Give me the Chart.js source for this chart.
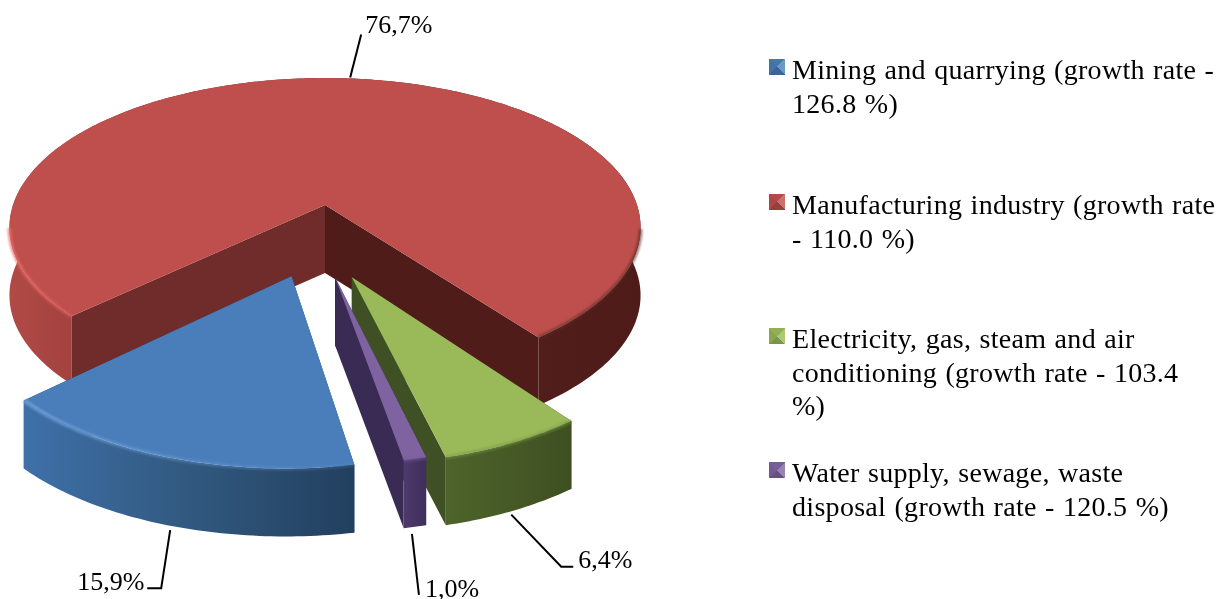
<!DOCTYPE html>
<html>
<head>
<meta charset="utf-8">
<title>Growth by industry</title>
<script src="https://cdn.jsdelivr.net/npm/chart.js@4"></script>
<style>
    html, body { margin: 0; padding: 0; background: #fff; }
    #wrap { position: relative; width: 1225px; height: 599px; overflow: hidden; }
    #legend { position: absolute; left: 0; top: 0; font-family: "Liberation Serif", serif; font-size: 28px; letter-spacing: .3px; word-spacing: 1px; color: #000; }
    .item { position: absolute; left: 769px; white-space: pre; line-height: 33.5px; padding-left: 23px; }
    .item:nth-child(1) { top: 53px; }
    .item:nth-child(2) { top: 188px; }
    .item:nth-child(3) { top: 322px; }
    .item:nth-child(4) { top: 456px; }
    .box { position: absolute; left: 0; top: 6px; width: 16px; height: 16px; }
</style>
</head>
<body>
<div id="wrap">
    <canvas id="pieChart" width="1225" height="599"></canvas>
    <div id="legend"></div>
</div>
<script>
const categories = [
    'Mining and quarrying (growth rate -\n126.8 %)',
    'Manufacturing industry (growth rate\n- 110.0 %)',
    'Electricity, gas, steam and air\nconditioning (growth rate - 103.4\n%)',
    'Water supply, sewage, waste\ndisposal (growth rate - 120.5 %)'
];
const shares = [15.9, 76.7, 6.4, 1.0];
const colors = ['#4a7ebb', '#be4f4c', '#9aba59', '#7f63a1'];

// legend is plain html so the line breaks stay where they are in the picture
document.getElementById('legend').innerHTML = categories.map((c, i) =>
    `<div class="item"><div class="box" style="background:conic-gradient(from -45deg, rgba(0,0,0,.06) 0 25%, rgba(255,255,255,.2) 0 50%, rgba(0,0,0,.2) 0 75%, rgba(0,0,0,.1) 0), ${colors[i]}"></div>${c}</div>`
).join('');

// fake 3d look: the library lays out the arcs, this plugin projects them with a bit of perspective
const pie3d = {
    id: 'pie3d',
    beforeDatasetDraw(chart, args, opts) {
        const ctx = chart.ctx;
        const arcs = chart.getDatasetMeta(0).data;

        const project = (el, i, t, extra = 1) => {
            const [ex, ey, s] = opts.explode[i];
            const u = extra * s * Math.cos(t) + ex;
            const v = extra * s * Math.sin(t) + ey;
            const p = 1 / (1 - opts.perspective * v);
            return [el.x + opts.radiusX * u * p, el.y + opts.radiusY * v * p];
        };
        const sample = (el, i) => {
            const pts = [];
            const n = Math.max(4, Math.ceil((el.endAngle - el.startAngle) * 60));
            for (let k = 0; k <= n; k++) {
                const t = el.startAngle + (el.endAngle - el.startAngle) * k / n;
                pts.push({ t, p: project(el, i, t) });
            }
            return pts;
        };
        const poly = (pts) => {
            ctx.beginPath();
            pts.forEach((p, k) => k ? ctx.lineTo(p[0], p[1]) : ctx.moveTo(p[0], p[1]));
            ctx.closePath();
        };
        const down = (p) => [p[0], p[1] + opts.depth];

        ctx.save();
        opts.order.forEach(i => {
            const el = arcs[i];
            const pts = sample(el, i);
            const rim = pts.map(a => a.p);
            const apex = project(el, i, 0, 0);
            const xs = rim.map(p => p[0]);
            const x0 = Math.min(...xs), x1 = Math.max(...xs);
            const grad = (stops) => {
                const g = ctx.createLinearGradient(x0, 0, x1, 0);
                stops.forEach(s => g.addColorStop(s[0], s[1]));
                return g;
            };

            // cut faces
            const first = rim[0], last = rim[rim.length - 1];
            ctx.fillStyle = opts.startWall[i];
            poly([apex, first, down(first), down(apex)]);
            ctx.fill();
            ctx.fillStyle = opts.endWall[i];
            poly([apex, last, down(last), down(apex)]);
            ctx.fill();

            // outer rim
            ctx.fillStyle = grad(opts.rimStops[i]);
            poly(rim.concat(rim.map(down).reverse()));
            ctx.fill();

            // top face
            ctx.fillStyle = el.options.backgroundColor;
            poly([apex].concat(rim));
            ctx.fill();

            // soft edge between top and rim, only on the part facing us
            ctx.save();
            ctx.filter = 'blur(1.2px)';
            ctx.strokeStyle = grad(opts.edgeStops[i]);
            ctx.lineWidth = 4;
            ctx.beginPath();
            let pen = false;
            pts.forEach(a => {
                if (Math.sin(a.t) < 0.15) { pen = false; return; }
                pen ? ctx.lineTo(a.p[0], a.p[1]) : ctx.moveTo(a.p[0], a.p[1]);
                pen = true;
            });
            ctx.stroke();
            ctx.restore();
        });

        // value labels with leader lines
        ctx.strokeStyle = '#000';
        ctx.fillStyle = '#000';
        ctx.lineWidth = 2;
        ctx.font = '26px "Liberation Serif", serif';
        ctx.textBaseline = 'alphabetic';
        arcs.forEach((el, i) => {
            const mid = (el.startAngle + el.endAngle) / 2;
            let a = project(el, i, mid);
            if (Math.sin(mid) > 0) a = down(a);
            const lead = opts.leaders[i];
            ctx.beginPath();
            ctx.moveTo(a[0] + lead[0][0], a[1] + lead[0][1]);
            lead.slice(1).forEach(d => ctx.lineTo(a[0] + d[0], a[1] + d[1]));
            ctx.stroke();
            const txt = shares[i].toFixed(1).replace('.', ',') + '%';
            ctx.fillText(txt, a[0] + opts.labelAt[i][0], a[1] + opts.labelAt[i][1]);
        });
        ctx.restore();
        return false;
    }
};

new Chart(document.getElementById('pieChart'), {
    type: 'pie',
    data: {
        labels: categories,
        datasets: [{ data: shares, backgroundColor: colors, borderWidth: 0 }]
    },
    options: {
        responsive: false,
        animation: false,
        rotation: 169.6,
        layout: { padding: { right: 575, bottom: 189 } },
        plugins: {
            legend: { display: false },
            tooltip: { enabled: false },
            pie3d: {
                radiusX: 312,
                radiusY: 146,
                perspective: 0.15,
                depth: 68,
                order: [1, 2, 3, 0],
                explode: [[-0.1, 0.455, 0.965], [0, 0, 1], [0.08, 0.46, 0.94], [0.03, 0.46, 0.94]],
                startWall: ['#223f5f', '#6f2c2a', '#3f5124', '#3a2b55'],
                endWall: ['#223f5f', '#4f1c19', '#3f5124', '#3a2b55'],
                rimStops: [
                    [[0, '#3f70a9'], [0.5, '#31597f'], [1, '#223f5f']],
                    [[0, '#b24a47'], [0.11, '#a0413e'], [0.5, '#5c2320'], [1, '#4d1b18']],
                    [[0, '#4e642b'], [1, '#3e4f21']],
                    [[0, '#4e3a6c'], [1, '#3f2e5c']]
                ],
                edgeStops: [
                    [[0, 'rgba(140,185,240,.55)'], [1, 'rgba(90,140,200,.25)']],
                    [[0, 'rgba(235,110,105,.7)'], [0.12, 'rgba(220,95,90,.5)'], [0.5, 'rgba(120,50,46,.4)'], [1, 'rgba(90,40,36,.6)']],
                    [[0, 'rgba(120,150,70,.5)'], [1, 'rgba(120,150,70,.5)']],
                    [[0, 'rgba(120,95,160,.5)'], [1, 'rgba(120,95,160,.5)']]
                ],
                leaders: [
                    [[3, 5], [-6, 63], [-20, 63]],
                    [[2, -1], [13, -44]],
                    [[-2, 4], [48, 56], [60, 56]],
                    [[-3, 7], [4, 68]]
                ],
                labelAt: [[-90, 65], [17, -45], [65, 57], [10, 70]]
            }
        }
    },
    plugins: [pie3d]
});
</script>
</body>
</html>
